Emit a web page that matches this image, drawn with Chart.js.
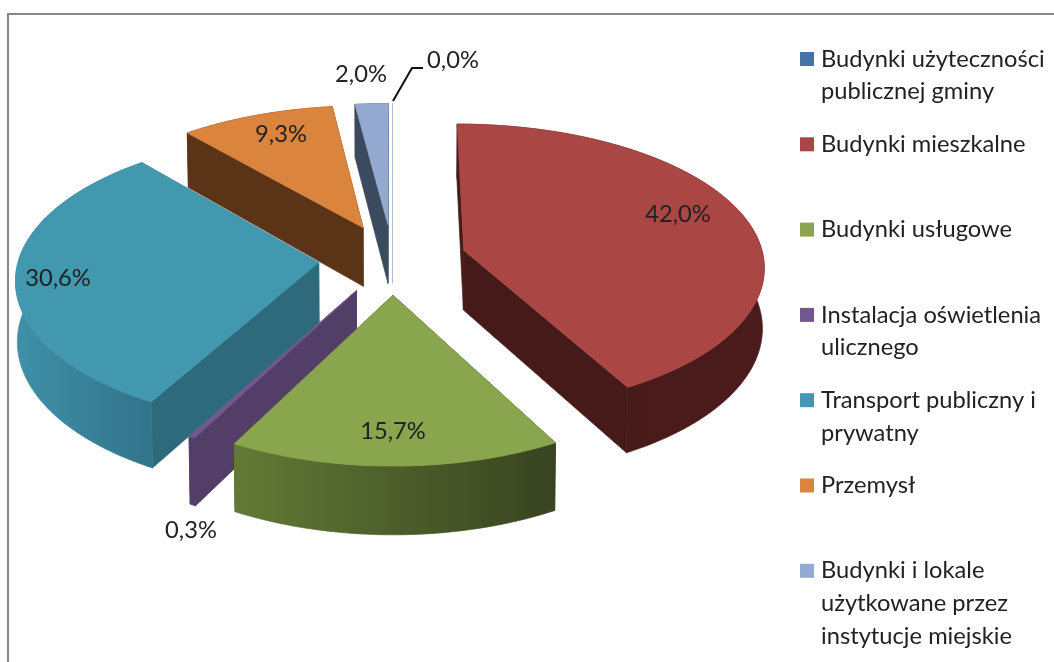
<!DOCTYPE html>
<html>
<head>
<meta charset="utf-8">
<style>
  html, body { margin: 0; padding: 0; background: #fff; }
  canvas { display: block; }
</style>
<script src="https://cdn.jsdelivr.net/npm/chart.js@4"></script>
</head>
<body>
<canvas id="pie3d" width="1054" height="662"></canvas>
<script>
const categories = [
  ['Budynki użyteczności', 'publicznej gminy'],
  ['Budynki mieszkalne'],
  ['Budynki usługowe'],
  ['Instalacja oświetlenia', 'ulicznego'],
  ['Transport publiczny i', 'prywatny'],
  ['Przemysł'],
  ['Budynki i lokale', 'użytkowane przez', 'instytucje miejskie']
];
const shares = [0.0, 42.0, 15.7, 0.3, 30.6, 9.3, 2.0];

const topColors = ['#4572a7', '#aa4643', '#89a54e', '#71588f', '#4198af', '#db843d', '#93a9cf'];
const cutColors = ['#a9bcd8', '#451a18', '#3a451f', '#523e66', '#2e6a7c', '#5b3417', '#3b4a5f'];
const rimLeft = ['#a9bcd8', '#451a18', '#627a36', '#523e66', '#3f90a8', '#5b3417', '#3b4a5f'];
const rimRight = ['#a9bcd8', '#4a1b1a', '#384320', '#523e66', '#32748a', '#5b3417', '#3b4a5f'];
// back to front
const drawOrder = [0, 6, 5, 1, 4, 3, 2];

// label centres on the page, same order as shares
const labelX = [453, 678, 393, 191, 58, 281, 361];
const labelY = [60, 214, 431, 530, 278, 134, 74];

// projection fitted to the picture
const pieCx = 392.5, pieCy = 259;
const explodeBy = 74, depth = 60;
const perspX = 0.00034, perspY = 0.00038, tilt = 0.475;
const floorShrink = 0.995;

const legendX = 800, legendTextX = 821, legendTop = 59, legendStep = 85.3, legendLine = 32.7;
const font = 'Lato, "Noto Sans", sans-serif';

function project(px, py, low) {
  const sx = 1 / (1 - perspX * py);
  const sy = 1 / (1 - perspY * py);
  let x = px * sx;
  let y = pieCy + py * tilt * sy;
  if (low) {
    x *= floorShrink;
    y += depth * sx;
  }
  return { x: pieCx + x, y };
}

function traceShape(ctx, pts) {
  ctx.beginPath();
  pts.forEach((p, i) => i ? ctx.lineTo(p.x, p.y) : ctx.moveTo(p.x, p.y));
  ctx.closePath();
}

function fillShape(ctx, pts, style) {
  traceShape(ctx, pts);
  ctx.fillStyle = style;
  ctx.strokeStyle = style;
  ctx.lineWidth = 0.7;
  ctx.fill();
  ctx.stroke();
}

function drawSlice(ctx, arc, i) {
  const mid = (arc.startAngle + arc.endAngle) / 2;
  const ox = Math.cos(mid) * explodeBy;
  const oy = Math.sin(mid) * explodeBy;
  const r = arc.outerRadius;
  const steps = Math.max(2, Math.ceil((arc.endAngle - arc.startAngle) * 40));
  const rimTop = [], rimLow = [];
  for (let s = 0; s <= steps; s++) {
    const a = arc.startAngle + (arc.endAngle - arc.startAngle) * s / steps;
    const px = ox + Math.cos(a) * r;
    const py = oy + Math.sin(a) * r;
    rimTop.push(project(px, py, false));
    rimLow.push(project(px, py, true));
  }
  const apexTop = project(ox, oy, false);
  const apexLow = project(ox, oy, true);
  const last = rimTop.length - 1;

  // cut faces, then the outer wall, then the lid
  fillShape(ctx, [apexTop, rimTop[0], rimLow[0], apexLow], cutColors[i]);
  fillShape(ctx, [apexTop, rimTop[last], rimLow[last], apexLow], cutColors[i]);

  const xs = rimTop.map(p => p.x);
  const grad = ctx.createLinearGradient(Math.min(...xs), 0, Math.max(...xs) + 0.01, 0);
  grad.addColorStop(0, rimLeft[i]);
  grad.addColorStop(1, rimRight[i]);
  fillShape(ctx, rimTop.concat(rimLow.slice().reverse()), grad);

  fillShape(ctx, [apexTop].concat(rimTop), i === 0 ? cutColors[0] : topColors[i]);
}

const pie3dPlugin = {
  id: 'pie3d',
  beforeDatasetsDraw(chart) {
    const ctx = chart.ctx;
    const arcs = chart.getDatasetMeta(0).data;
    ctx.save();
    drawOrder.forEach(i => drawSlice(ctx, arcs[i], i));
    ctx.restore();
    return false;
  },
  afterDraw(chart) {
    const ctx = chart.ctx;
    ctx.save();

    // frame: only top and left show in the picture
    ctx.strokeStyle = '#868686';
    ctx.lineWidth = 2;
    ctx.beginPath();
    ctx.moveTo(8, 662);
    ctx.lineTo(8, 14);
    ctx.lineTo(1054, 14);
    ctx.stroke();

    // leader for the 0,0% label
    ctx.strokeStyle = '#111';
    ctx.lineWidth = 2;
    ctx.beginPath();
    ctx.moveTo(393, 101);
    ctx.lineTo(412, 68);
    ctx.lineTo(423, 68);
    ctx.stroke();

    ctx.fillStyle = '#222';
    ctx.font = '23.7px ' + font;
    ctx.textAlign = 'center';
    ctx.textBaseline = 'middle';
    shares.forEach((v, i) => {
      ctx.fillText(v.toFixed(1).replace('.', ',') + '%', labelX[i], labelY[i]);
    });

    ctx.textAlign = 'left';
    categories.forEach((lines, i) => {
      const y = legendTop + i * legendStep;
      ctx.fillStyle = topColors[i];
      ctx.fillRect(legendX, y - 7, 14, 14);
      ctx.fillStyle = '#222';
      lines.forEach((line, n) => ctx.fillText(line, legendTextX, y + n * legendLine));
    });
    ctx.restore();
  }
};

new Chart(document.getElementById('pie3d').getContext('2d'), {
  type: 'pie',
  data: {
    labels: categories,
    datasets: [{ data: shares, backgroundColor: topColors, borderWidth: 0 }]
  },
  options: {
    responsive: false,
    animation: false,
    events: [],
    layout: { padding: 31 },
    plugins: { legend: { display: false }, tooltip: { enabled: false } }
  },
  plugins: [pie3dPlugin]
});
</script>
</body>
</html>
